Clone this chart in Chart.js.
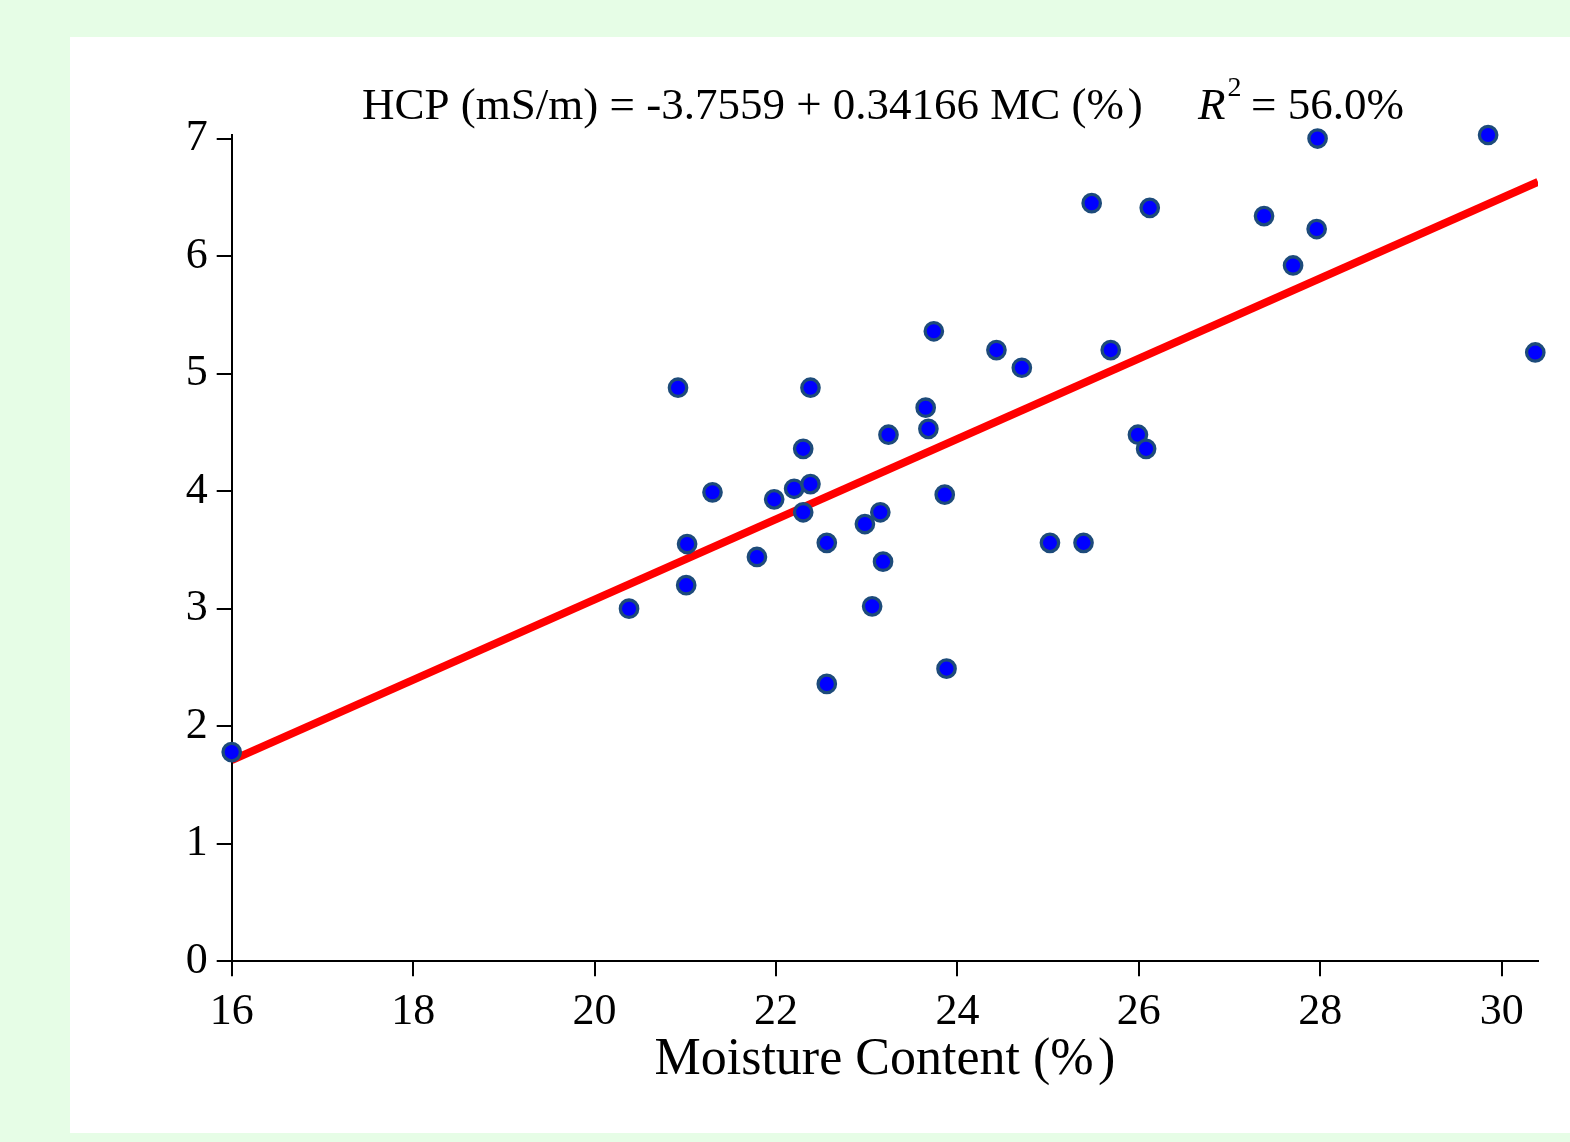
<!DOCTYPE html>
<html>
<head>
<meta charset="utf-8">
<script src="https://cdn.jsdelivr.net/npm/chart.js@4/dist/chart.umd.min.js"></script>
<style>
  body { margin: 0; background: #e6fde6; width: 1570px; height: 1142px; overflow: hidden; }
  #cv { position: absolute; left: 70px; top: 37px; background: #ffffff; }
</style>
</head>
<body>
<canvas id="cv" width="1500" height="1096"></canvas>
<script>

// moisture content (%) and HCP (mS/m)
const moisture = [16.0, 20.38, 20.92, 21.02, 21.01, 21.30, 21.79, 21.98, 22.20, 22.30,
    22.38, 22.38, 22.30, 22.56, 22.56, 22.98, 23.15, 23.18, 23.06, 23.24,
    23.65, 23.68, 23.74, 23.86, 23.88, 24.43, 24.71, 25.02, 25.39, 25.48,
    25.69, 25.99, 26.08, 26.12, 27.38, 27.70, 27.96, 27.97, 29.85, 30.37];
const hcp = [1.78, 3.00, 4.88, 3.55, 3.20, 3.99, 3.44, 3.93, 4.02, 4.36,
    4.88, 4.06, 3.82, 3.56, 2.36, 3.72, 3.82, 3.40, 3.02, 4.48,
    4.71, 4.53, 5.36, 3.97, 2.49, 5.20, 5.05, 3.56, 3.56, 6.45,
    5.20, 4.48, 4.36, 6.41, 6.34, 5.92, 6.23, 7.00, 7.03, 5.18];

// fitted line end points
const fitX = [16, 30.4];
const fitY = [1.711, 6.631];

const xTicks = [16, 18, 20, 22, 24, 26, 28, 30];
const yTicks = [0, 1, 2, 3, 4, 5, 6, 7];

const titleText = "HCP (mS/m) = -3.7559 + 0.34166 MC (%\u200A)";
const xTitle = "Moisture Content (%\u200A)";

const serif = '"Liberation Serif", "Times New Roman", serif';

const titlePlugin = {
    id: "eqTitle",
    afterDraw(chart) {
        const ctx = chart.ctx;
        ctx.save();
        ctx.fillStyle = "#000";
        ctx.textBaseline = "alphabetic";
        ctx.textAlign = "left";
        ctx.font = "45px " + serif;
        ctx.fillText(titleText, 292, 82);

        let x = 1128;
        ctx.font = "italic 45px " + serif;
        ctx.fillText("R", x, 82);
        x += ctx.measureText("R").width + 2;
        ctx.font = "28px " + serif;
        ctx.fillText("2", x, 59);
        x = 1181;
        ctx.font = "45px " + serif;
        ctx.fillText("= 56.0%", x, 82);
        ctx.restore();
    }
};

const points = moisture.map((m, i) => ({ x: m, y: hcp[i] }));
const fit = fitX.map((m, i) => ({ x: m, y: fitY[i] }));

new Chart(document.getElementById("cv"), {
    type: "scatter",
    data: {
        datasets: [
            {
                type: "line",
                data: fit,
                borderColor: "#ff0000",
                borderWidth: 8,
                pointRadius: 0,
                fill: false,
                order: 2
            },
            {
                data: points,
                backgroundColor: "#0000ff",
                borderColor: "#1d4b7a",
                borderWidth: 3.3,
                pointRadius: 8.7,
                clip: false,
                order: 1
            }
        ]
    },
    options: {
        responsive: false,
        animation: false,
        devicePixelRatio: 1,
        layout: { padding: { top: 98, right: 32, left: 0, bottom: 0 } },
        plugins: {
            legend: { display: false },
            tooltip: { enabled: false }
        },
        scales: {
            x: {
                type: "linear",
                min: 16,
                max: 30.4,
                afterFit(scale) { scale.height = 171.7; },
                afterBuildTicks(scale) { scale.ticks = xTicks.map(v => ({ value: v })); },
                border: { display: true, color: "#000", width: 2 },
                grid: { display: true, drawOnChartArea: false, drawTicks: true, tickLength: 15, color: "#000", lineWidth: 2 },
                ticks: { color: "#000", padding: 10, font: { family: serif, size: 44 }, maxRotation: 0 },
                title: { display: true, text: xTitle, color: "#000", font: { family: serif, size: 52 }, padding: { top: 0, bottom: 41 } }
            },
            y: {
                type: "linear",
                min: 0,
                max: 7.03,
                afterFit(scale) { scale.width = 161.7; },
                afterBuildTicks(scale) { scale.ticks = yTicks.map(v => ({ value: v })); },
                border: { display: true, color: "#000", width: 2 },
                grid: { display: true, drawOnChartArea: false, drawTicks: true, tickLength: 15, color: "#000", lineWidth: 2 },
                ticks: { color: "#000", padding: 9, font: { family: serif, size: 44 } }
            }
        }
    },
    plugins: [titlePlugin]
});
</script>
</body>
</html>
